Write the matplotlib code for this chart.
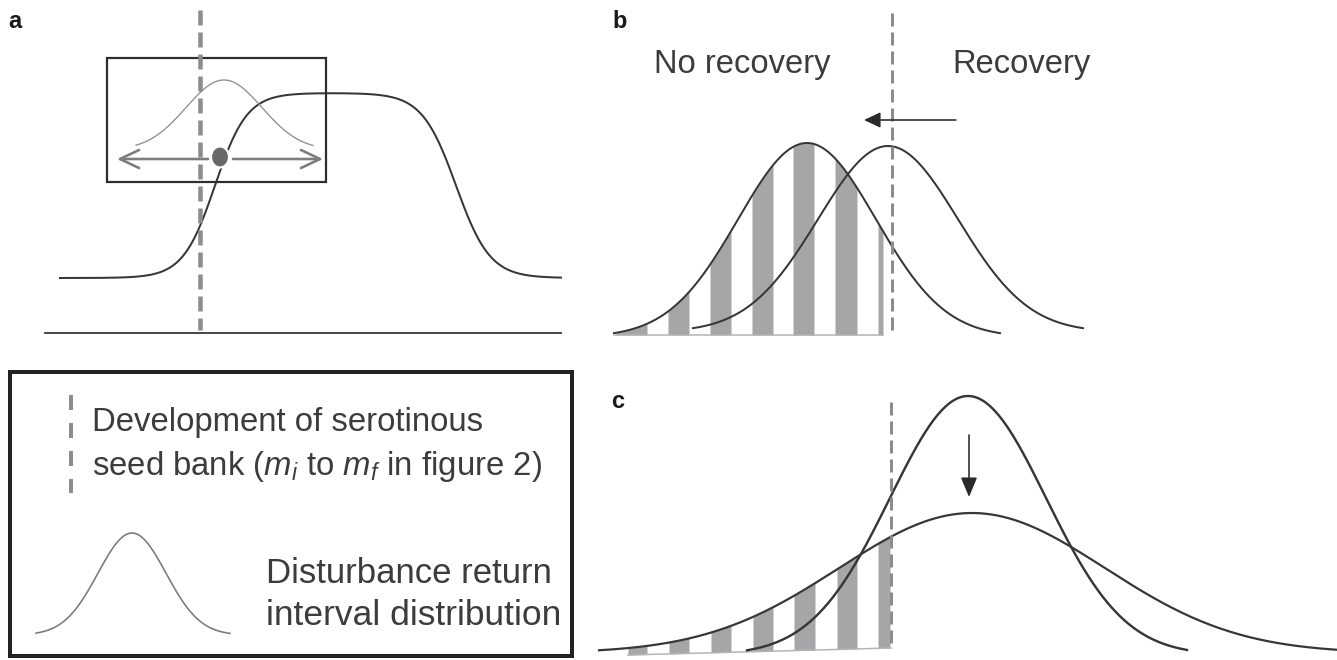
import numpy as np
import matplotlib
matplotlib.use("Agg")
import matplotlib.pyplot as plt
from matplotlib.patches import Rectangle, Ellipse

# ---------------- data (pixel units of the schematic) ----------------
# panel a : sigmoid response curve
a_sigmoid_x = [60, 561]
a_sigmoid_levels = [278, 93]          # baseline, plateau
a_sigmoid_rise = [215, 16]            # centre, scale
a_sigmoid_fall = [456, 17]            # centre, scale
# panel a : return-interval distribution inside box  (centre, sigma, peak, base, x0, x1)
a_dist = [224, 38, 80, 150, 136, 313]
a_dot = [220, 157]
a_threshold_x = 200

# panel b : distributions (centre, sigma, peak, base, x0, x1)
b_shifted = [807, 69, 143, 337, 614, 1000]
b_original = [888, 70, 146, 332, 693, 1083]
b_threshold_x = 892
b_stripe_left = [616, 668, 710, 752, 793, 835, 878]
b_stripe_right = [647, 689, 731, 773, 814, 857, 883]
b_labels = ["No recovery", "Recovery"]

# panel c : distributions (centre, sigma, peak, base, x0, x1)
c_narrow = [968, 78, 396, 655, 747, 1187]
c_broad = [972, 133, 513, 653, 599, 1337]
c_threshold_x = 891
c_stripe_left = [628, 669, 711, 753, 794, 837, 878]
c_stripe_right = [647, 689, 731, 773, 815, 857, 890]

# legend
legend_dist = [132, 34, 533, 635, 36, 230]
legend_text_1 = ["Development of serotinous", r"seed bank ($m_i$ to $m_f$ in figure 2)"]
legend_text_2 = ["Disturbance return", "interval distribution"]

# ---------------- helpers ----------------
PT = 0.72  # px -> pt at dpi 100


def gauss(x, p):
    c, s, peak, base = p[0], p[1], p[2], p[3]
    return base - (base - peak) * np.exp(-(x - c) ** 2 / (2 * s ** 2))


def gx(p, n=400):
    return np.linspace(p[4], p[5], n)


plt.rcParams["font.family"] = ["Liberation Sans", "DejaVu Sans"]
plt.rcParams["mathtext.fontset"] = "custom"
plt.rcParams["mathtext.rm"] = "Liberation Sans"
plt.rcParams["mathtext.it"] = "Liberation Sans:italic"
plt.rcParams["lines.scale_dashes"] = False

fig = plt.figure(figsize=(13.37, 6.6), dpi=100)
ax = fig.add_axes([0, 0, 1, 1])
ax.set_xlim(0, 1337)
ax.set_ylim(660, 0)
ax.axis("off")

DARK = "#363636"
TXT = "#3c3c3c"
GREY_DASH = "#8c8c8c"
STRIPE = "#a6a6a9"

# ---------------- panel a ----------------
ax.text(8, 28, "a", fontsize=17, fontweight="bold", color="#1a1a1a")
xa = np.linspace(a_sigmoid_x[0], a_sigmoid_x[1], 800)
rise = 1 / (1 + np.exp(-(xa - a_sigmoid_rise[0]) / a_sigmoid_rise[1]))
fall = 1 / (1 + np.exp((xa - a_sigmoid_fall[0]) / a_sigmoid_fall[1]))
ya = a_sigmoid_levels[0] - (a_sigmoid_levels[0] - a_sigmoid_levels[1]) * rise * fall
ax.plot(xa, ya, color=DARK, lw=2 * PT, zorder=3)
ax.plot([45, 561], [333, 333], color=DARK, lw=1.8 * PT, zorder=3)
ax.add_patch(Rectangle((107, 58), 219, 124, fill=False, ec="#2e2e2e", lw=2.2 * PT, zorder=3))
xd = gx(a_dist)
ax.plot(xd, gauss(xd, a_dist), color="#8e8e8e", lw=1.3 * PT, zorder=3)
arrow_kw = dict(arrowstyle="->,head_length=1.37,head_width=0.65", mutation_scale=10,
                lw=2.6 * PT, color="#7d7d7d", shrinkA=0, shrinkB=0)
ax.annotate("", xy=(117, a_dot[1] + 2), xytext=(208, a_dot[1] + 2), arrowprops=arrow_kw, zorder=4)
ax.annotate("", xy=(323, a_dot[1] + 2), xytext=(233, a_dot[1] + 2), arrowprops=arrow_kw, zorder=4)
ax.add_patch(Ellipse((a_dot[0], a_dot[1]), 18, 21, fc="#686868", ec="white", lw=2.2 * PT, zorder=5))
ax.plot([a_threshold_x, a_threshold_x], [10, 330], color=GREY_DASH, lw=4.5 * PT,
        dashes=(15 * PT, 7 * PT), zorder=4)

# ---------------- panel b ----------------
ax.text(612, 28, "b", fontsize=17, fontweight="bold", color="#1a1a1a")
for l, r in zip(b_stripe_left, b_stripe_right):
    xs = np.linspace(l, r, 50)
    ax.fill_between(xs, 335, gauss(xs, b_shifted), color=STRIPE, lw=0, zorder=1)
ax.plot([614, 883], [335, 335], color="#b4b4b4", lw=1.5 * PT, zorder=1)
xb1 = gx(b_shifted)
ax.plot(xb1, gauss(xb1, b_shifted), color=DARK, lw=2 * PT, zorder=3)
xb2 = gx(b_original)
ax.plot(xb2, gauss(xb2, b_original), color=DARK, lw=2 * PT, zorder=3)
ax.plot([b_threshold_x, b_threshold_x], [13, 332], color=GREY_DASH, lw=3 * PT,
        dashes=(13 * PT, 6 * PT), zorder=4)
ax.annotate("", xy=(864, 120), xytext=(956, 120),
            arrowprops=dict(arrowstyle="-|>,head_length=1.0,head_width=0.47", mutation_scale=10,
                            lw=1.6 * PT, color="#2a2a2a", shrinkA=0, shrinkB=0), zorder=5)
ax.text(654, 73, b_labels[0], fontsize=23.6, color=TXT, va="baseline")
ax.text(952, 73, b_labels[1], fontsize=23.6, color=TXT, va="baseline")

# ---------------- panel c ----------------
ax.text(611, 408, "c", fontsize=17, fontweight="bold", color="#1a1a1a")
for l, r in zip(c_stripe_left, c_stripe_right):
    xs = np.linspace(l, r, 50)
    base = 655 + (xs - 628) * (648 - 655) / (891 - 628)
    ax.fill_between(xs, base, gauss(xs, c_broad), color=STRIPE, lw=0, zorder=1)
ax.plot([628, 891], [655, 648], color="#b4b4b4", lw=1.5 * PT, zorder=1)
xc1 = gx(c_narrow)
ax.plot(xc1, gauss(xc1, c_narrow), color=DARK, lw=2.4 * PT, zorder=3)
xc2 = gx(c_broad)
ax.plot(xc2, gauss(xc2, c_broad), color=DARK, lw=2.2 * PT, zorder=3)
ax.plot([c_threshold_x, c_threshold_x], [402, 648], color=GREY_DASH, lw=3 * PT,
        dashes=(13 * PT, 6 * PT), zorder=4)
ax.annotate("", xy=(969, 497), xytext=(969, 435),
            arrowprops=dict(arrowstyle="-|>,head_length=1.2,head_width=0.5", mutation_scale=10,
                            lw=1.6 * PT, color="#2a2a2a", shrinkA=0, shrinkB=0), zorder=5)

# ---------------- legend box ----------------
ax.add_patch(Rectangle((10, 372), 562, 284, fill=False, ec="#222222", lw=4 * PT, zorder=3))
ax.plot([71, 71], [395, 493], color=GREY_DASH, lw=4 * PT, dashes=(15 * PT, 13 * PT), zorder=3)
ax.text(92, 431, legend_text_1[0], fontsize=23.7, color=TXT, va="baseline")
ax.text(92, 475, legend_text_1[1], fontsize=23.7, color=TXT, va="baseline")
xl = gx(legend_dist)
ax.plot(xl, gauss(xl, legend_dist), color="#7a7a7a", lw=1.6 * PT, zorder=3)
ax.text(266, 583, legend_text_2[0], fontsize=25, color=TXT, va="baseline")
ax.text(266, 625, legend_text_2[1], fontsize=25.5, color=TXT, va="baseline")

fig.savefig("out.png", dpi=100, facecolor="white")
